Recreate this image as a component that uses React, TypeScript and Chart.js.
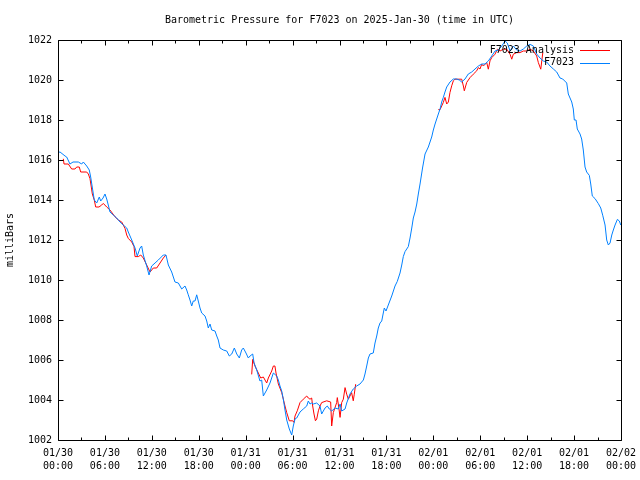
import React, { useEffect, useRef } from "react";
import { Chart, registerables } from "chart.js";

Chart.register(...registerables);

const TITLE = "Barometric Pressure for F7023 on 2025-Jan-30 (time in UTC)";
const Y_LABEL = "milliBars";
const DAY_LABELS = ["01/30", "01/31", "02/01", "02/02"];
const TIME_LABELS = ["00:00", "06:00", "12:00", "18:00"];
const Y_MIN = 1002;
const Y_MAX = 1022;
const Y_STEP = 2;
const X_MIN = 0;
const X_MAX = 72;

const ANALYSIS_LABEL = "F7023 Analysis";
const STATION_LABEL = "F7023";

// hours since 2025-01-30 00:00 UTC
const stationHours = [
  0.0, 0.26, 0.9, 1.11, 1.53, 1.92, 2.6, 3.03, 3.24, 3.67, 4.0, 4.18, 4.44, 4.64, 4.95, 5.28, 5.46, 5.76,
  6.01, 6.23, 6.43, 6.65, 7.07, 7.51, 7.93, 8.35, 8.79, 8.99, 9.43, 9.85, 10.14, 10.49, 10.7, 10.91, 11.34,
  11.64, 11.98, 12.41, 12.83, 13.47, 13.81, 14.11, 14.54, 14.96, 15.39, 15.82, 16.24, 16.46, 16.66, 16.88,
  17.1, 17.3, 17.52, 17.74, 17.94, 18.16, 18.38, 18.8, 19.02, 19.22, 19.44, 19.66, 20.08, 20.3, 20.5, 20.72,
  21.14, 21.58, 21.91, 22.22, 22.55, 22.86, 23.19, 23.49, 23.7, 24.04, 24.34, 24.56, 24.9, 25.07, 25.41,
  25.83, 26.05, 26.26, 26.69, 27.11, 27.54, 27.97, 28.18, 28.39, 28.61, 28.81, 29.03, 29.25, 29.58, 29.89,
  30.09, 30.31, 30.53, 30.95, 31.37, 31.81, 32.01, 32.23, 32.44, 32.65, 33.08, 33.51, 33.72, 33.93, 34.15,
  34.44, 34.7, 35.0, 35.43, 35.85, 36.07, 36.28, 36.71, 36.92, 37.34, 37.76, 38.2, 38.62, 39.05, 39.26,
  39.48, 39.69, 39.9, 40.32, 40.54, 40.76, 40.96, 41.18, 41.4, 41.6, 41.73, 41.95, 42.24, 42.68, 43.1, 43.39,
  43.74, 43.96, 44.16, 44.38, 44.8, 45.02, 45.24, 45.44, 45.66, 45.88, 46.08, 46.3, 46.62, 46.94, 47.36,
  47.79, 48.0, 48.22, 48.43, 48.64, 48.86, 49.07, 49.28, 49.49, 49.71, 50.13, 50.56, 50.99, 51.32, 51.63,
  52.05, 52.47, 52.91, 53.33, 53.76, 54.19, 54.61, 55.03, 55.47, 55.89, 56.31, 56.75, 57.17, 57.46, 57.81,
  58.23, 58.66, 59.09, 59.51, 59.95, 60.37, 60.79, 61.22, 61.64, 62.07, 62.5, 62.92, 63.35, 63.78, 64.2,
  64.55, 65.06, 65.26, 65.7, 65.9, 66.03, 66.25, 66.41, 66.76, 66.97, 67.18, 67.4, 67.61, 67.95, 68.13,
  68.33, 68.68, 69.1, 69.41, 69.66, 69.96, 70.17, 70.38, 70.6, 70.82, 71.02, 71.24, 71.54, 71.79, 71.97,
];
const stationPressure = [
  1016.38, 1016.4, 1016.2, 1016.15, 1015.8, 1015.9, 1015.9, 1015.8, 1015.9, 1015.7, 1015.5, 1015.15, 1014.5,
  1014.0, 1013.85, 1014.15, 1013.95, 1014.1, 1014.3, 1014.05, 1013.75, 1013.4, 1013.25, 1013.1, 1012.9,
  1012.75, 1012.6, 1012.4, 1012.0, 1011.6, 1011.2, 1011.6, 1011.7, 1011.25, 1010.7, 1010.25, 1010.7, 1010.85,
  1011.0, 1011.25, 1011.25, 1010.75, 1010.4, 1009.9, 1009.85, 1009.55, 1009.7, 1009.5, 1009.26, 1009.0,
  1008.7, 1008.95, 1008.95, 1009.26, 1008.95, 1008.6, 1008.35, 1008.2, 1007.95, 1007.6, 1007.8, 1007.5,
  1007.45, 1007.2, 1007.0, 1006.6, 1006.5, 1006.45, 1006.2, 1006.3, 1006.6, 1006.3, 1006.1, 1006.5, 1006.6,
  1006.35, 1006.1, 1006.2, 1006.3, 1005.86, 1005.5, 1004.95, 1005.0, 1004.2, 1004.5, 1004.85, 1005.35,
  1005.2, 1005.0, 1004.7, 1004.45, 1004.05, 1003.5, 1003.0, 1002.55, 1002.25, 1002.7, 1003.05, 1003.1,
  1003.4, 1003.55, 1003.7, 1003.95, 1003.8, 1003.85, 1003.8, 1003.85, 1003.7, 1003.3, 1003.45, 1003.6,
  1003.7, 1003.55, 1003.45, 1003.6, 1003.55, 1003.8, 1003.45, 1003.55, 1003.85, 1004.3, 1004.55, 1004.7,
  1004.8, 1005.0, 1005.3, 1005.7, 1006.1, 1006.3, 1006.35, 1006.85, 1007.2, 1007.6, 1007.85, 1007.95,
  1008.35, 1008.6, 1008.45, 1008.75, 1009.2, 1009.7, 1009.93, 1010.35, 1010.75, 1011.17, 1011.42, 1011.67,
  1012.1, 1012.6, 1013.1, 1013.4, 1013.8, 1014.3, 1014.8, 1015.6, 1016.3, 1016.65, 1017.15, 1017.5, 1017.8,
  1018.05, 1018.3, 1018.55, 1018.9, 1019.13, 1019.4, 1019.65, 1019.9, 1020.05, 1020.05, 1020.0, 1019.9,
  1020.05, 1020.3, 1020.4, 1020.55, 1020.7, 1020.8, 1020.8, 1020.95, 1021.2, 1021.45, 1021.5, 1021.7,
  1021.95, 1021.85, 1021.45, 1021.7, 1021.5, 1021.45, 1021.55, 1021.7, 1021.78, 1021.7, 1021.3, 1021.1,
  1020.95, 1020.9, 1020.7, 1020.55, 1020.4, 1020.1, 1020.05, 1019.85, 1019.3, 1018.9, 1018.55, 1018.0,
  1018.0, 1017.55, 1017.3, 1017.05, 1016.5, 1015.65, 1015.4, 1015.23, 1014.8, 1014.2, 1014.07, 1013.82,
  1013.6, 1013.24, 1012.75, 1012.0, 1011.75, 1011.85, 1012.25, 1012.5, 1012.75, 1013.03, 1012.95, 1012.75,
];

const analysisHours = [
  0.68, 0.77, 1.32, 1.75, 2.17, 2.39, 2.72, 2.9, 3.67, 3.88, 4.09, 4.22, 4.39, 4.64, 4.82, 5.24, 5.59, 5.79,
  6.23, 6.65, 7.29, 7.71, 8.15, 8.57, 8.79, 8.99, 9.43, 9.72, 9.85, 10.27, 10.58, 10.91, 11.34, 11.77, 12.19,
  12.62, 13.05, 13.47, 13.81,
  14.0,
  24.77, 24.9, 25.19, 25.62, 25.92, 26.26, 26.69, 26.9, 27.33, 27.54, 27.74, 27.88, 28.18, 28.61, 29.03,
  29.25, 29.58, 30.02, 30.18, 30.31, 30.6, 30.95, 31.37, 31.81, 32.01, 32.23, 32.44, 32.57, 32.74, 32.92,
  33.09, 33.3, 33.51, 33.72, 34.36, 34.87, 35.0, 35.21, 35.64, 35.72, 35.94, 36.07, 36.28, 36.49, 36.71,
  36.92, 37.13, 37.34, 37.55, 37.76, 37.89, 38.07,
  38.5,
  48.64, 48.86, 49.28, 49.49, 49.71, 49.92, 50.13, 50.35, 50.56, 50.77, 51.63, 51.84, 51.96, 52.27, 52.69,
  53.11, 53.55, 53.76, 53.97, 54.19, 54.4, 54.61, 54.83, 55.03, 55.25, 55.47, 55.67, 55.89, 56.19, 56.53,
  56.96, 57.39, 57.81, 58.03, 58.23, 58.66, 59.09, 59.51, 59.95, 60.37, 60.79, 61.22, 61.43, 61.74, 61.87,
  62.0,
];
const analysisPressure = [
  1016.06, 1015.8, 1015.8, 1015.55, 1015.55, 1015.65, 1015.65, 1015.4, 1015.4, 1015.3, 1015.07, 1014.75,
  1014.3, 1014.0, 1013.65, 1013.65, 1013.75, 1013.83, 1013.65, 1013.5, 1013.16, 1013.0, 1012.9, 1012.58,
  1012.25, 1012.08, 1011.9, 1011.67, 1011.17, 1011.17, 1011.25, 1011.1, 1010.75, 1010.4, 1010.6, 1010.6,
  1010.85, 1011.1, 1011.25,
  null,
  1005.28, 1006.03, 1005.7, 1005.35, 1005.1, 1005.15, 1004.85, 1005.1, 1005.45, 1005.7, 1005.7, 1005.35,
  1004.8, 1004.37, 1003.7, 1003.37, 1002.96, 1002.96, 1002.88, 1003.2, 1003.46, 1003.87, 1004.04, 1004.2,
  1004.1, 1004.04, 1004.1, 1003.7, 1003.3, 1002.96, 1003.05, 1003.46, 1003.7, 1003.87, 1003.96, 1003.9,
  1002.7, 1003.37, 1003.87, 1004.12, 1003.54, 1003.13, 1003.87, 1004.04, 1004.62, 1004.29, 1004.04, 1004.2,
  1004.37, 1003.96, 1004.29, 1004.79,
  null,
  1018.52, 1018.52, 1018.88, 1019.13, 1018.8, 1018.9, 1019.38, 1019.71, 1019.96, 1020.04, 1020.04, 1019.7,
  1019.46, 1019.88, 1020.12, 1020.29, 1020.46, 1020.62, 1020.55, 1020.79, 1020.7, 1020.79, 1020.87,
  1020.54, 1020.96, 1021.12, 1021.2, 1021.29, 1021.54, 1021.45, 1021.54, 1021.54, 1021.29, 1021.04,
  1021.29, 1021.37, 1021.37, 1021.45, 1021.45, 1021.54, 1021.45, 1021.2, 1020.87, 1020.54, 1020.96,
  1021.37,
];

const RED = "#ff0000";
const BLUE = "#0080ff";
const FONT = "'DejaVu Sans Mono', 'Liberation Mono', monospace";

const framePlugin = {
  id: "gnuplotFrame",
  afterDatasetsDraw(chart: any) {
    const { ctx, chartArea } = chart;
    const { left, right, top, bottom } = chartArea;
    const xs = chart.scales.x;
    const ys = chart.scales.y;
    ctx.save();
    ctx.strokeStyle = "#000";
    ctx.lineWidth = 1;
    ctx.beginPath();
    const L = Math.round(left) + 0.5;
    const R = Math.round(right) + 0.5;
    const T = Math.round(top) + 0.5;
    const B = Math.round(bottom) + 0.5;
    ctx.rect(L, T, R - L, B - T);
    for (let h = X_MIN; h <= X_MAX; h += 3) {
      const px = Math.round(xs.getPixelForValue(h)) + 0.5;
      const len = h % 6 === 0 ? 5 : 3;
      ctx.moveTo(px, B);
      ctx.lineTo(px, B - len);
      ctx.moveTo(px, T);
      ctx.lineTo(px, T + len);
    }
    for (let v = Y_MIN; v <= Y_MAX; v += Y_STEP) {
      const py = Math.round(ys.getPixelForValue(v)) + 0.5;
      ctx.moveTo(L, py);
      ctx.lineTo(L + 5, py);
      ctx.moveTo(R, py);
      ctx.lineTo(R - 5, py);
    }
    ctx.stroke();

    // legend (top right, inside plot)
    ctx.font = `10px ${FONT}`;
    ctx.textAlign = "right";
    ctx.textBaseline = "middle";
    ctx.fillStyle = "#000";
    const items = chart.data.datasets.map((d: any) => ({ label: d.label, color: d.borderColor }));
    items.forEach((it: any, i: number) => {
      const y = 50 + i * 12.5;
      ctx.fillText(it.label, 574, y);
      ctx.strokeStyle = it.color;
      ctx.beginPath();
      ctx.moveTo(580, Math.round(y) + 0.5);
      ctx.lineTo(610, Math.round(y) + 0.5);
      ctx.stroke();
    });
    ctx.restore();
  },
};

export default function App() {
  const ref = useRef<HTMLCanvasElement | null>(null);
  useEffect(() => {
    document.body.style.margin = "0";
    const canvas = ref.current;
    if (!canvas) return;
    const analysisData = analysisHours.map((h, i) => ({ x: h, y: analysisPressure[i] }));
    const stationData = stationHours.map((h, i) => ({ x: h, y: stationPressure[i] }));
    const chart = new Chart(canvas, {
      type: "line",
      data: {
        datasets: [
          {
            label: ANALYSIS_LABEL,
            data: analysisData as any,
            borderColor: RED,
            borderWidth: 1,
            pointRadius: 0,
            tension: 0,
            spanGaps: false,
            order: 1,
          },
          {
            label: STATION_LABEL,
            data: stationData as any,
            borderColor: BLUE,
            borderWidth: 1,
            pointRadius: 0,
            tension: 0,
            order: 0,
          },
        ],
      },
      options: {
        responsive: false,
        animation: false,
        devicePixelRatio: 1,
        layout: { padding: { left: 0, right: 19, top: 0, bottom: 0 } },
        plugins: {
          legend: { display: false },
          tooltip: { enabled: false },
          title: {
            display: true,
            text: TITLE,
            fullSize: false,
            color: "#000",
            font: { family: FONT, size: 10, weight: "normal" },
            padding: { top: 14, bottom: 14 },
          },
        },
        scales: {
          x: {
            type: "linear",
            min: X_MIN,
            max: X_MAX,
            border: { display: false },
            grid: { display: false, drawTicks: false },
            ticks: {
              stepSize: 6,
              autoSkip: false,
              maxRotation: 0,
              padding: 7,
              color: "#000",
              font: { family: FONT, size: 10, lineHeight: 1.3 },
              callback: (v: any) => {
                const h = Number(v);
                const d = Math.floor(h / 24);
                const t = Math.round((h % 24) / 6);
                return [DAY_LABELS[d], TIME_LABELS[t]];
              },
            },
            afterFit: (s: any) => {
              s.height = 40;
              s.paddingLeft = 0;
              s.paddingRight = 0;
            },
          },
          y: {
            min: Y_MIN,
            max: Y_MAX,
            border: { display: false },
            grid: { display: false, drawTicks: false },
            ticks: {
              stepSize: Y_STEP,
              padding: 6,
              color: "#000",
              font: { family: FONT, size: 10 },
              callback: (v: any) => String(v),
            },
            title: {
              display: true,
              text: Y_LABEL,
              color: "#000",
              font: { family: FONT, size: 10 },
              padding: { top: 4, bottom: 0 },
            },
            afterFit: (s: any) => {
              s.width = 58;
              s.paddingTop = 0;
              s.paddingBottom = 0;
            },
          },
        },
      },
      plugins: [framePlugin],
    });
    return () => chart.destroy();
  }, []);
  return (
    <div style={{ position: "absolute", left: 0, top: 0, width: 640, height: 480, background: "#fff" }}>
      <canvas ref={ref} width={640} height={480} />
    </div>
  );
}
